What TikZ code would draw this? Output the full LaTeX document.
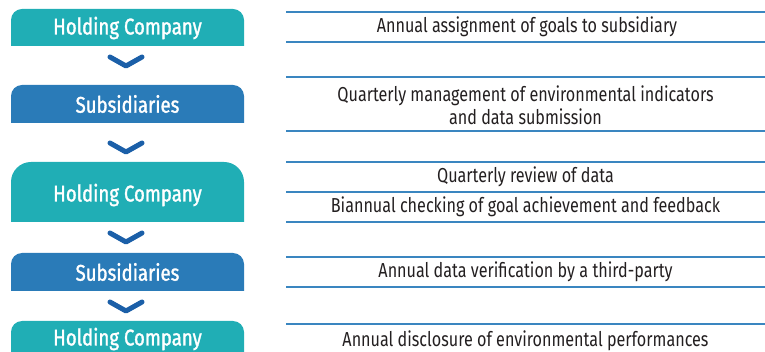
\documentclass[tikz,border=0pt]{standalone}
\usepackage{fontspec}
\setmainfont{Fira Sans}[FakeStretch=0.8]
\newfontfamily\boxfont{Fira Sans}[FakeStretch=0.82,FakeBold=1.3]
\definecolor{teal1}{HTML}{20AEB5}
\definecolor{blue1}{HTML}{2A7BB8}
\definecolor{chev}{HTML}{1B5FA8}
\definecolor{rule}{HTML}{3A86C0}
\definecolor{txt}{HTML}{231F20}
\begin{document}
\begin{tikzpicture}[x=1pt,y=-1pt,
  boxlabel/.style={text=white,font=\boxfont\fontsize{22.7}{26}\selectfont,inner sep=0pt},
  desc/.style={text=txt,font=\fontsize{20.2}{23}\selectfont,align=center,inner sep=0pt},
  rulel/.style={draw=rule,line width=1.4pt},
  chevron/.style={draw=chev,line width=5pt,line cap=round,line join=round}]
\useasboundingbox (0,0) rectangle (765,352);
\clip (0,0) rectangle (765,352);
% boxes
\fill[teal1] (11,46) [rounded corners=11] -- (11,9) -- (244,9) [sharp corners] -- (244,46) -- cycle;
\fill[blue1] (11,123) [rounded corners=11] -- (11,85) -- (244,85) [sharp corners] -- (244,123) -- cycle;
\fill[teal1] (11,222) [rounded corners=20] -- (11,162) -- (244,162) [sharp corners] -- (244,222) -- cycle;
\fill[blue1] (11,291) [rounded corners=11] -- (11,253) -- (244,253) [sharp corners] -- (244,291) -- cycle;
\fill[teal1] (11,370) [rounded corners=11] -- (11,321) -- (244,321) [sharp corners] -- (244,370) -- cycle;
\node[boxlabel] (b1) at (127.5,28) {Holding Company};
\node[boxlabel] (b2) at (127.5,104) {Subsidiaries};
\node[boxlabel] (b3) at (127.5,195) {Holding Company};
\node[boxlabel] (b4) at (127.5,272) {Subsidiaries};
\node[boxlabel] (b5) at (127.5,339) {Holding Company};
% chevrons
\draw[chevron] (110,57) -- (126,66) -- (142,57);
\draw[chevron] (110,143) -- (126,152) -- (142,143);
\draw[chevron] (110,233) -- (126,242) -- (142,233);
\draw[chevron] (110,302) -- (126,311) -- (142,302);
% rules
\foreach \yy in {12,42,77,131,162,192,222,257,287,324}{
  \draw[rulel] (286,\yy) -- (765,\yy);
}
% descriptions
\node[desc] (d1) at (527,27) {Annual assignment of goals to subsidiary};
\node[desc] (d2) at (525.5,105) {Quarterly management of environmental indicators\\and data submission};
\node[desc] (d3) at (525.5,177) {Quarterly review of data};
\node[desc] (d4) at (525.5,207) {Biannual checking of goal achievement and feedback};
\node[desc] (d5) at (525.5,272) {Annual data verification by a third-party};
\node[desc] (d6) at (525.5,341) {Annual disclosure of environmental performances};
\end{tikzpicture}
\end{document}
